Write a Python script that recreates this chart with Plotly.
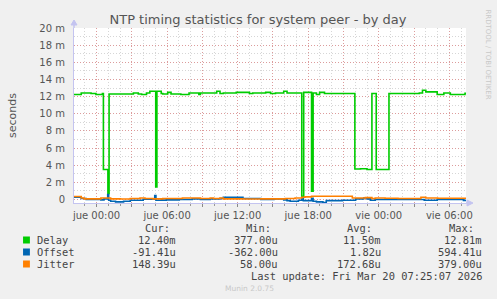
import plotly.graph_objects as go

# ---------------- data ----------------
delay_time = [
    "2026-03-18 22:05", "2026-03-18 22:42", "2026-03-18 23:32", "2026-03-18 23:57",
    "2026-03-19 00:30", "2026-03-19 00:35", "2026-03-19 00:58", "2026-03-19 01:04",
    "2026-03-19 03:08", "2026-03-19 03:33", "2026-03-19 03:50", "2026-03-19 04:15",
    "2026-03-19 04:32", "2026-03-19 05:02", "2026-03-19 05:08", "2026-03-19 05:30",
    "2026-03-19 05:38", "2026-03-19 06:03", "2026-03-19 06:20", "2026-03-19 07:10",
    "2026-03-19 07:52", "2026-03-19 08:42", "2026-03-19 08:50", "2026-03-19 10:13",
    "2026-03-19 10:30", "2026-03-19 10:47", "2026-03-19 11:53", "2026-03-19 13:00",
    "2026-03-19 13:17", "2026-03-19 14:23", "2026-03-19 14:48", "2026-03-19 15:13",
    "2026-03-19 15:55", "2026-03-19 16:12", "2026-03-19 17:27", "2026-03-19 17:37",
    "2026-03-19 18:17", "2026-03-19 18:25", "2026-03-19 18:42", "2026-03-19 18:58",
    "2026-03-19 19:23", "2026-03-19 21:58", "2026-03-19 22:27", "2026-03-19 23:00",
    "2026-03-19 23:25", "2026-03-19 23:47", "2026-03-20 00:52", "2026-03-20 03:27",
    "2026-03-20 03:43", "2026-03-20 04:00", "2026-03-20 04:58", "2026-03-20 05:32",
    "2026-03-20 06:05", "2026-03-20 07:20", "2026-03-20 07:25",
]
delay_ms = [
    12.24, 12.43, 12.37, 12.24,
    12.37, 3.50, 0.70, 12.30,
    12.43, 12.30, 12.24, 12.43,
    12.62, 1.48, 12.62, 12.37,
    12.30, 12.50, 12.30, 12.24,
    12.43, 12.24, 12.43, 12.62,
    12.37, 12.43, 12.50, 12.37,
    12.43, 12.50, 12.37, 12.43,
    12.62, 12.43, 0.38, 12.50,
    0.97, 12.43, 12.24, 12.50,
    12.37, 3.57, 3.60, 3.50,
    12.37, 3.50, 12.37, 12.43,
    12.74, 12.55, 12.24, 12.43,
    12.24, 12.40, 12.40,
]

offset_time = [
    "2026-03-18 22:05", "2026-03-18 22:42", "2026-03-18 23:07", "2026-03-19 00:22",
    "2026-03-19 00:38", "2026-03-19 00:57", "2026-03-19 01:02", "2026-03-19 01:12",
    "2026-03-19 01:37", "2026-03-19 02:18", "2026-03-19 02:52", "2026-03-19 03:58",
    "2026-03-19 04:57", "2026-03-19 05:03", "2026-03-19 05:30", "2026-03-19 05:38",
    "2026-03-19 05:55", "2026-03-19 07:02", "2026-03-19 08:08", "2026-03-19 08:50",
    "2026-03-19 09:40", "2026-03-19 10:30", "2026-03-19 10:47", "2026-03-19 12:27",
    "2026-03-19 13:58", "2026-03-19 15:05", "2026-03-19 15:55", "2026-03-19 16:12",
    "2026-03-19 16:28", "2026-03-19 17:10", "2026-03-19 17:27", "2026-03-19 17:35",
    "2026-03-19 18:17", "2026-03-19 18:25", "2026-03-19 18:42", "2026-03-19 19:15",
    "2026-03-19 19:32", "2026-03-19 20:55", "2026-03-19 22:02", "2026-03-19 22:43",
    "2026-03-19 23:00", "2026-03-19 23:17", "2026-03-19 23:42", "2026-03-20 03:52",
    "2026-03-20 04:58", "2026-03-20 07:12", "2026-03-20 07:25",
]
offset_ms = [
    0.27, 0.12, 0.00, -0.04,
    0.08, 0.59, -0.08, -0.19,
    -0.27, -0.19, -0.08, 0.04,
    0.47, -0.08, 0.08, -0.08,
    -0.04, 0.00, 0.08, 0.00,
    0.08, 0.12, 0.27, 0.12,
    0.00, 0.08, -0.04, -0.12,
    -0.19, -0.08, 0.15, -0.12,
    0.15, -0.19, -0.27, -0.36,
    -0.12, -0.08, 0.08, 0.19,
    0.08, -0.08, 0.00, -0.08,
    0.00, -0.09, -0.09,
]

jitter_time = [
    "2026-03-18 22:05", "2026-03-18 22:42", "2026-03-18 22:58", "2026-03-19 00:22",
    "2026-03-19 01:12", "2026-03-19 02:02", "2026-03-19 02:52", "2026-03-19 03:42",
    "2026-03-19 04:07", "2026-03-19 04:48", "2026-03-19 05:38", "2026-03-19 07:18",
    "2026-03-19 08:50", "2026-03-19 09:40", "2026-03-19 09:57", "2026-03-19 10:30",
    "2026-03-19 10:47", "2026-03-19 12:27", "2026-03-19 13:58", "2026-03-19 16:03",
    "2026-03-19 16:53", "2026-03-19 17:27", "2026-03-19 17:43", "2026-03-19 18:17",
    "2026-03-19 21:45", "2026-03-19 22:52", "2026-03-19 23:25", "2026-03-19 23:42",
    "2026-03-20 00:32", "2026-03-20 01:38", "2026-03-20 03:35", "2026-03-20 04:00",
    "2026-03-20 05:00", "2026-03-20 07:25",
]
jitter_ms = [
    0.35, 0.19, 0.08, 0.19,
    0.08, 0.06, 0.12, 0.19,
    0.12, 0.08, 0.12, 0.19,
    0.12, 0.19, 0.12, 0.19,
    0.08, 0.06, 0.08, 0.12,
    0.19, 0.27, 0.31, 0.38,
    0.19, 0.23, 0.12, 0.19,
    0.16, 0.12, 0.27, 0.19,
    0.15, 0.15,
]

x_tickvals = [
    "2026-03-19 00:00", "2026-03-19 03:00", "2026-03-19 06:00", "2026-03-19 09:00",
    "2026-03-19 12:00", "2026-03-19 15:00", "2026-03-19 18:00", "2026-03-19 21:00",
    "2026-03-20 00:00", "2026-03-20 03:00", "2026-03-20 06:00",
]
x_ticktext = ["jue 00:00", "", "jue 06:00", "", "jue 12:00", "", "jue 18:00", "",
              "vie 00:00", "", "vie 06:00"]
y_tickvals = [0, 2, 4, 6, 8, 10, 12, 14, 16, 18, 20]
y_ticktext = ["0", "2 m", "4 m", "6 m", "8 m", "10 m", "12 m", "14 m", "16 m", "18 m", "20 m"]

series_names = ["Delay", "Offset", "Jitter"]
series_colors = ["#00CC00", "#0066B3", "#FF8000"]
stat_headers = ["Cur:", "Min:", "Avg:", "Max:"]
stats = [
    ["12.40m", "377.00u", "11.50m", "12.81m"],
    ["-91.41u", "-362.00u", "1.82u", "594.41u"],
    ["148.39u", "58.00u", "172.68u", "379.00u"],
]
last_update = "Last update: Fri Mar 20 07:25:07 2026"

# ---------------- layout helpers ----------------
W, H = 497, 299
L, R, T, B = 66, 31, 28, 96
PW, PH = W - L - R, H - T - B


def px(x):
    return (x - L) / PW


def py(y):
    return (H - B - y) / PH


fig = go.Figure()
for t, v, name, col in zip([delay_time, offset_time, jitter_time],
                           [delay_ms, offset_ms, jitter_ms],
                           series_names, series_colors):
    fig.add_trace(go.Scatter(x=t, y=v, mode="lines", name=name,
                             line=dict(color=col, width=1.6, shape="hv"),
                             hoverinfo="skip"))

axis_col = "#C4C4F0"
major_grid = "rgba(225,110,110,0.55)"
minor_grid = "#D6D6D6"
font_main = "DejaVu Sans"
mono = "DejaVu Sans Mono"

fig.update_layout(
    width=W, height=H, autosize=False,
    margin=dict(l=L, r=R, t=T, b=B, pad=0),
    paper_bgcolor="#F0F0F0", plot_bgcolor="#FFFFFF",
    showlegend=False,
    title=dict(text="NTP timing statistics for system peer - by day",
               x=258 / W, xref="container", xanchor="center",
               y=1 - 19 / H, yref="container", yanchor="middle",
               font=dict(family=font_main, size=13, color="#555555")),
    xaxis=dict(
        type="date",
        range=["2026-03-18 22:05", "2026-03-20 07:25"],
        tickmode="array", tickvals=x_tickvals, ticktext=x_ticktext,
        showgrid=True, gridcolor=major_grid, griddash="1px,2px", gridwidth=1,
        minor=dict(dtick=3600000, tick0="2026-03-19 00:00", showgrid=True,
                   gridcolor=minor_grid, griddash="1px,2px", gridwidth=1,
                   ticks="outside", ticklen=2, tickcolor="#999999"),
        ticks="outside", ticklen=3, tickcolor="#888888",
        showline=True, linecolor=axis_col, linewidth=1,
        zeroline=False,
        tickfont=dict(family=font_main, size=10, color="#555555"),
        fixedrange=True,
    ),
    yaxis=dict(
        range=[-0.4, 20],
        tickmode="array", tickvals=y_tickvals, ticktext=y_ticktext,
        showgrid=True, gridcolor=major_grid, griddash="1px,2px", gridwidth=1,
        minor=dict(dtick=1, tick0=0, showgrid=True,
                   gridcolor=minor_grid, griddash="1px,2px", gridwidth=1),
        ticks="", showline=True, linecolor=axis_col, linewidth=1,
        zeroline=False, ticklabelstandoff=6,
        tickfont=dict(family=font_main, size=10, color="#555555"),
        title=dict(text="seconds", standoff=20,
                   font=dict(family=font_main, size=11, color="#555555")),
        fixedrange=True,
    ),
)

# axis arrows
fig.add_shape(type="path", xref="paper", yref="paper", xsizemode="pixel", ysizemode="pixel",
              xanchor=0, yanchor=1, path="M 0,0 L 0,3 L -3,3 L 0,8 L 3,3 L 0,3 Z",
              line=dict(color=axis_col, width=1), fillcolor=axis_col)
fig.add_shape(type="path", xref="paper", yref="paper", xsizemode="pixel", ysizemode="pixel",
              xanchor=1, yanchor=0, path="M 0,0 L 1,0 L 1,3 L 7,0 L 1,-3 L 1,0 Z",
              line=dict(color=axis_col, width=1), fillcolor=axis_col)

ann = []
# watermark
ann.append(dict(text="RRDTOOL / TOBI OETIKER", x=px(488), y=py(54), xref="paper", yref="paper",
                showarrow=False, textangle=90, xanchor="center", yanchor="middle",
                font=dict(family=font_main, size=7, color="#C8C8C8")))
ann.append(dict(text="Munin 2.0.75", x=px(245), y=py(288), xref="paper", yref="paper",
                showarrow=False, xanchor="center", yanchor="middle",
                font=dict(family=font_main, size=7.5, color="#C8C8C8")))

# legend table
header_left = [136, 239, 343, 447]
value_right = [172, 276, 381, 484]
row_y = [240, 252, 264]
for hx, h in zip(header_left, stat_headers):
    ann.append(dict(text=h, x=px(hx), y=py(228), xref="paper", yref="paper", showarrow=False,
                    xanchor="left", yanchor="middle",
                    font=dict(family=mono, size=10.4, color="#444444")))
for ry, name, col, vals in zip(row_y, series_names, series_colors, stats):
    fig.add_shape(type="rect", xref="paper", yref="paper",
                  x0=px(14), x1=px(21), y0=py(ry + 3.5), y1=py(ry - 3.5),
                  line=dict(width=0), fillcolor=col)
    ann.append(dict(text=name, x=px(26), y=py(ry), xref="paper", yref="paper", showarrow=False,
                    xanchor="left", yanchor="middle",
                    font=dict(family=mono, size=10.4, color="#444444")))
    for vx, v in zip(value_right, vals):
        ann.append(dict(text=v, x=px(vx), y=py(ry), xref="paper", yref="paper", showarrow=False,
                        xanchor="right", yanchor="middle",
                        font=dict(family=mono, size=10.4, color="#444444")))
ann.append(dict(text=last_update, x=px(484), y=py(276), xref="paper", yref="paper",
                showarrow=False, xanchor="right", yanchor="middle",
                font=dict(family=mono, size=10.4, color="#444444")))
fig.update_layout(annotations=ann)

fig.write_html("out.html")
